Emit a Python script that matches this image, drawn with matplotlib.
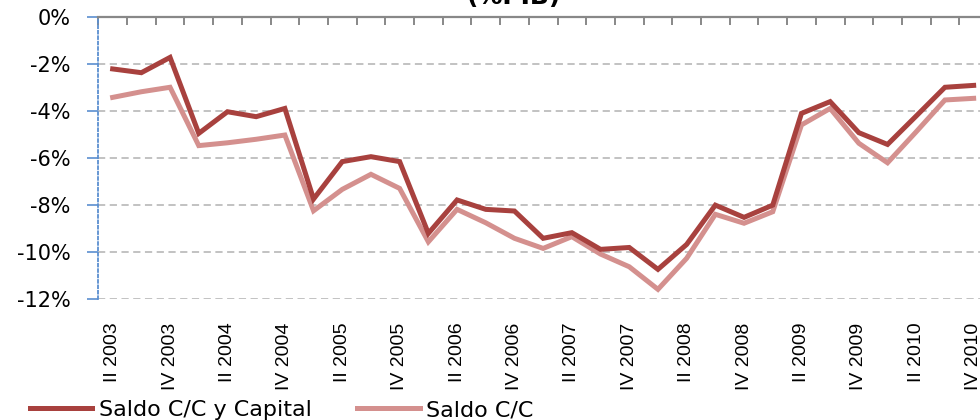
import numpy as np
import matplotlib
matplotlib.use('Agg')
import matplotlib.pyplot as plt
from matplotlib.ticker import FixedLocator, FuncFormatter

# quarters II 2003 .. IV 2010
quarters = []
for yr in range(2003, 2011):
    for q in ['I', 'II', 'III', 'IV']:
        if yr == 2003 and q == 'I':
            continue
        quarters.append(q + ' ' + str(yr))

saldo_cc_capital = [-2.22, -2.38, -1.73, -4.96, -4.04, -4.25, -3.90, -7.75,
                    -6.16, -5.95, -6.16, -9.21, -7.79, -8.19, -8.26, -9.42,
                    -9.18, -9.89, -9.81, -10.74, -9.68, -8.01, -8.53, -8.01,
                    -4.11, -3.61, -4.93, -5.43, -4.22, -3.00, -2.92]
saldo_cc = [-3.43, -3.19, -3.00, -5.48, -5.36, -5.21, -5.03, -8.25,
            -7.34, -6.70, -7.30, -9.57, -8.19, -8.76, -9.42, -9.85,
            -9.35, -10.09, -10.63, -11.59, -10.27, -8.40, -8.78, -8.29,
            -4.60, -3.90, -5.38, -6.21, -4.89, -3.54, -3.47]
yticks = [0, -2, -4, -6, -8, -10, -12]

dark = '#A8413E'
light = '#D4908E'

fig = plt.figure(figsize=(9.8, 4.2), dpi=100)
ax = fig.add_axes([98.3/980, 1-299/420, (988-98.3)/980, (299-16.7)/420])

x = np.arange(len(quarters))
ax.plot(x, saldo_cc_capital, color=dark, lw=3.6, solid_joinstyle='miter', label='Saldo C/C y Capital', zorder=4)
ax.plot(x, saldo_cc, color=light, lw=3.6, solid_joinstyle='miter', label='Saldo C/C', zorder=3)

ax.set_xlim(-0.5, len(quarters) - 0.5)
ax.set_ylim(-12, 0)

# y axis
ax.set_yticks(yticks)
ax.yaxis.set_major_formatter(FuncFormatter(lambda v, p: '%d%%' % v))
ax.tick_params(axis='y', direction='out', length=8, width=1.2, color='#5B8FD0',
               labelsize=15, pad=12, labelcolor='black')
ax.grid(axis='y', color='#BDBDBD', ls=(0, (4, 2.5)), lw=1.3)

# x axis: labels at bottom, tick marks on top spine
ax.set_xticks(x[::2])
ax.set_xticklabels(quarters[::2], rotation=90, va='top', ha='center',
                   family=['Liberation Sans', 'DejaVu Sans'], fontsize=14)
ax.tick_params(axis='x', which='major', bottom=True, length=0, pad=17)
ax.xaxis.set_minor_locator(FixedLocator(np.arange(-0.5, len(quarters), 1.0)))
ax.tick_params(axis='x', which='minor', top=True, bottom=False, direction='in',
               length=6, width=1.4, color='#888888')

for s in ['right', 'bottom']:
    ax.spines[s].set_visible(False)
ax.spines['top'].set_color('#888888')
ax.spines['top'].set_linewidth(1.6)
ax.spines['left'].set_color('#5B8FD0')
ax.spines['left'].set_linestyle((0, (1.5, 1.5)))
ax.spines['left'].set_linewidth(1.3)

fig.text(514/980, 1 - 4/420, '(%PIB)', ha='center', va='baseline',
         fontsize=18, fontweight='bold')

fig.legend(loc='center left', bbox_to_anchor=(30/980, 1 - 410/420), ncol=2,
           frameon=False, fontsize=16, handlelength=2.8, handletextpad=0.3,
           columnspacing=2.05, borderaxespad=0, borderpad=0)

fig.savefig('out.png', dpi=100)
